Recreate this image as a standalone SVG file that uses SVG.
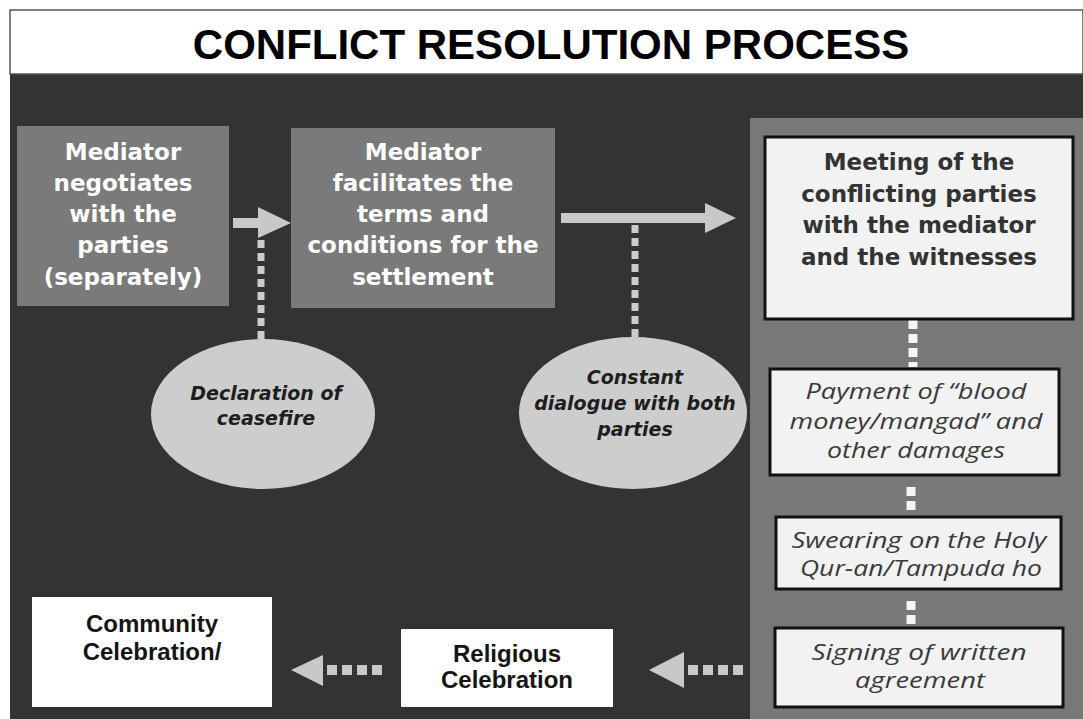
<svg xmlns="http://www.w3.org/2000/svg" width="1083" height="719" viewBox="0 0 1083 719">
<defs>
<style>
.bg{fill:#333333}
.gbox{fill:#7a7a7a}
.wt{font-family:"DejaVu Sans",sans-serif;font-weight:bold;font-size:23px;fill:#ffffff;text-anchor:middle}
.dt{font-family:"DejaVu Sans",sans-serif;font-weight:bold;font-size:23px;fill:#333333;text-anchor:middle}
.ell{fill:#cdcdcd}
.et{font-family:"DejaVu Sans",sans-serif;font-weight:bold;font-style:italic;font-size:19px;fill:#1e1e1e;text-anchor:middle}
.ibox{fill:#f2f2f2;stroke:#111111;stroke-width:3}
.it{font-family:"Open Sans",sans-serif;font-style:italic;font-size:22px;fill:#3a3a3a;text-anchor:middle}
.wbox{fill:#ffffff}
.bt{font-family:"Liberation Sans",Arial,sans-serif;font-weight:bold;font-size:24px;fill:#151515;text-anchor:middle}
.arrow{fill:#c8c8c8}
.dotv{stroke:#cccccc;stroke-width:7;stroke-dasharray:8 5;fill:none}
.dotw{stroke:#f4f4f4;stroke-width:9;stroke-dasharray:9 5;fill:none}
.doth{stroke:#c8c8c8;stroke-width:10;stroke-dasharray:10 5;fill:none}
</style>
</defs>
<rect x="0" y="0" width="1083" height="719" fill="#ffffff"/>
<rect x="10" y="74" width="1073" height="645" class="bg"/>
<g id="title">
<rect x="10" y="10" width="1073" height="64" fill="#ffffff" stroke="#555555" stroke-width="1.5"/>
<text x="551" y="59" font-family="Liberation Sans, Arial, sans-serif" font-weight="bold" font-size="42" fill="#000000" text-anchor="middle">CONFLICT RESOLUTION PROCESS</text>
</g>
<g id="panel">
<rect x="750" y="118" width="333" height="601" fill="#787878"/>
</g>
<g id="connectors">
<path class="arrow" d="M233,218 H258 V207 L291,223 L258,238 V228 H233 Z"/>
<path class="arrow" d="M561,213 H705 V203 L736,218 L705,233 V223 H561 Z"/>
<line class="dotv" x1="261" y1="240" x2="261" y2="340"/>
<line class="dotv" x1="635" y1="225" x2="635" y2="337"/>
<line class="dotw" x1="913" y1="320" x2="913" y2="367"/>
<line class="dotw" x1="911" y1="487" x2="911" y2="515"/>
<line class="dotw" x1="911" y1="601" x2="911" y2="627"/>
<path class="arrow" d="M684,652 L649,670 L684,688 Z"/>
<line class="doth" x1="688" y1="670" x2="748" y2="670"/>
<path class="arrow" d="M323,655 L291,670 L323,686 Z"/>
<line class="doth" x1="327" y1="670" x2="387" y2="670"/>
</g>
<g id="n1">
<rect x="17" y="126" width="212" height="180" class="gbox"/>
<text class="wt" x="123" y="160">Mediator</text>
<text class="wt" x="123" y="191">negotiates</text>
<text class="wt" x="123" y="222">with the</text>
<text class="wt" x="123" y="253">parties</text>
<text class="wt" x="123" y="285">(separately)</text>
</g>
<g id="n2">
<rect x="291" y="128" width="264" height="180" class="gbox"/>
<text class="wt" x="423" y="160">Mediator</text>
<text class="wt" x="423" y="191">facilitates the</text>
<text class="wt" x="423" y="222">terms and</text>
<text class="wt" x="423" y="253">conditions for the</text>
<text class="wt" x="423" y="285">settlement</text>
</g>
<g id="e1">
<ellipse cx="263" cy="414" rx="112" ry="75" class="ell"/>
<text class="et" x="266" y="400">Declaration of</text>
<text class="et" x="266" y="425">ceasefire</text>
</g>
<g id="e2">
<ellipse cx="633" cy="413" rx="114" ry="76" class="ell"/>
<text class="et" x="635" y="384">Constant</text>
<text class="et" x="635" y="410">dialogue with both</text>
<text class="et" x="635" y="436">parties</text>
</g>
<g id="n3">
<rect x="765" y="137" width="308" height="182" class="ibox"/>
<text class="dt" x="919" y="170">Meeting of the</text>
<text class="dt" x="919" y="202">conflicting parties</text>
<text class="dt" x="919" y="233">with the mediator</text>
<text class="dt" x="919" y="265">and the witnesses</text>
</g>
<g id="n4">
<rect x="770" y="369" width="289" height="106" class="ibox"/>
<text class="it" x="916" y="399" textLength="221" lengthAdjust="spacingAndGlyphs">Payment of “blood</text>
<text class="it" x="916" y="429" textLength="253" lengthAdjust="spacingAndGlyphs">money/mangad” and</text>
<text class="it" x="916" y="458" textLength="178" lengthAdjust="spacingAndGlyphs">other damages</text>
</g>
<g id="n5">
<rect x="776" y="517" width="285" height="72" class="ibox"/>
<text class="it" x="919" y="548" textLength="255" lengthAdjust="spacingAndGlyphs">Swearing on the Holy</text>
<text class="it" x="921" y="576" textLength="242" lengthAdjust="spacingAndGlyphs">Qur-an/Tampuda ho</text>
</g>
<g id="n6">
<rect x="775" y="628" width="288" height="79" class="ibox"/>
<text class="it" x="919" y="660" textLength="215" lengthAdjust="spacingAndGlyphs">Signing of written</text>
<text class="it" x="920" y="688" textLength="130" lengthAdjust="spacingAndGlyphs">agreement</text>
</g>
<g id="n7">
<rect x="401" y="629" width="212" height="78" class="wbox"/>
<text class="bt" x="507" y="662">Religious</text>
<text class="bt" x="507" y="688">Celebration</text>
</g>
<g id="n8">
<rect x="32" y="597" width="240" height="110" class="wbox"/>
<text class="bt" x="152" y="632">Community</text>
<text class="bt" x="152" y="660">Celebration/</text>
</g>
</svg>
